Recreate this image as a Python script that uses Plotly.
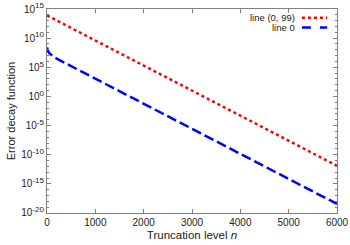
import plotly.graph_objects as go

# Data (log10 of the error decay function)
n_red = [0, 500, 1000, 1500, 2000, 2500, 3000, 3500, 4000, 4500, 5000, 5500, 6000]
log_red = [13.9, 11.75, 9.6, 7.45, 5.3, 3.15, 1.0, -1.15, -3.3, -5.45, -7.6, -9.75, -11.9]

n_blue = [0, 10, 25, 50, 100, 150, 200, 300, 500, 1000, 1500, 2000, 2500, 3000,
          3500, 4000, 4500, 5000, 5500, 6000]
log_blue = [8.4, 8.1, 7.7, 7.4, 7.0, 6.7, 6.5, 6.1, 5.2, 3.05, 0.9, -1.25, -3.4,
            -5.55, -7.7, -9.85, -12.0, -14.15, -16.3, -18.45]

names = ["line (0, 99)", "line 0"]
x_ticks = [0, 1000, 2000, 3000, 4000, 5000, 6000]
y_exps = [15, 10, 5, 0, -5, -10, -15, -20]

RED = "#ff0000"
BLUE = "#0000ff"
FONT = "Liberation Sans, Arial, sans-serif"
TXT = "#222222"

fig = go.Figure()
fig.add_trace(go.Scatter(x=n_red, y=[10 ** v for v in log_red], mode="lines",
                         name=names[0], line=dict(color=RED, width=2.5, dash="3px,3px")))
fig.add_trace(go.Scatter(x=n_blue, y=[10 ** v for v in log_blue], mode="lines",
                         name=names[1], line=dict(color=BLUE, width=2.5, dash="10px,4px")))

axis_common = dict(showline=True, linecolor="#808080", linewidth=1, mirror="ticks",
                   ticks="inside", ticklen=4, tickcolor="#808080", showgrid=False,
                   zeroline=False, automargin=False, ticklabeloverflow="allow")

fig.update_xaxes(range=[0, 6000], tickvals=x_ticks,
                 tickfont=dict(family=FONT, size=10, color=TXT),
                 title=dict(text="Truncation level <i>n</i>", font=dict(family=FONT, size=11.5, color=TXT), standoff=3),
                 **axis_common)
fig.update_yaxes(type="log", range=[-20.003, 15.003],
                 tickvals=[10 ** e for e in y_exps],
                 ticktext=[f"10<sup><span style='font-size:8px'>{e}</span></sup>" for e in y_exps],
                 tickfont=dict(family=FONT, size=10, color=TXT),
                 minor=dict(tickvals=[10 ** e for e in range(-20, 16)], ticks="inside",
                            ticklen=2, tickcolor="#808080"),
                 title=dict(text="Error decay function", font=dict(family=FONT, size=11, color=TXT), standoff=3),
                 **axis_common)

# legend drawn manually (text left of sample line, as in reference)
legend_y = [0.957, 0.909]
legend_colors = [RED, BLUE]
legend_dash = ["dot", "dash"]
for name, yy, c, d in zip(names, legend_y, legend_colors, legend_dash):
    fig.add_annotation(x=0.862, y=yy, xref="paper", yref="paper", text=name,
                       showarrow=False, xanchor="right", yanchor="middle",
                       font=dict(family=FONT, size=9.5, color=TXT))
    fig.add_shape(type="line", xref="paper", yref="paper", x0=0.879, x1=0.966,
                  y0=yy, y1=yy, line=dict(color=c, width=2.5, dash=d))

fig.update_layout(width=350, height=245, showlegend=False,
                  margin=dict(l=47, r=13, t=9, b=32),
                  paper_bgcolor="white", plot_bgcolor="white",
                  font=dict(family=FONT))

fig.write_html("out.html", config={"displayModeBar": False},
               post_script="document.body.style.margin='0px';")
